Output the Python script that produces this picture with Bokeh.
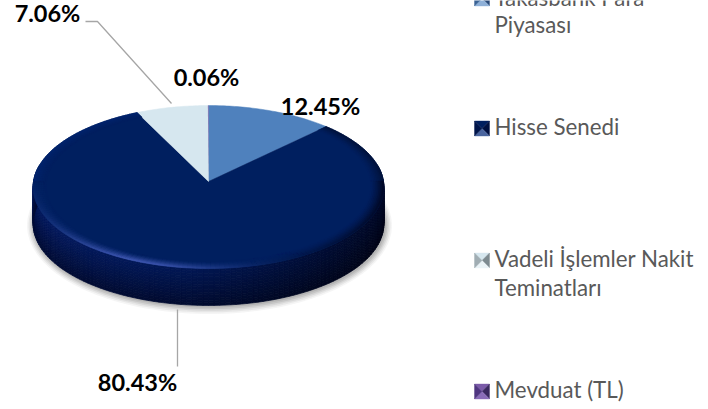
import math
from bokeh.plotting import figure
from bokeh.embed import file_html
from bokeh.resources import INLINE
from bokeh.core.properties import value

categories = ["Takasbank Para Piyasası", "Hisse Senedi", "Vadeli İşlemler Nakit Teminatları", "Mevduat (TL)"]
shares = [12.45, 80.43, 7.06, 0.06]
share_labels = ["12.45%", "80.43%", "7.06%", "0.06%"]
slice_colors = ["#4f81bd", "#001f5f", "#d6e7ef", "#6f4e9c"]
legend_lines = [["Takasbank Para", "Piyasası"], ["Hisse Senedi"], ["Vadeli İşlemler Nakit", "Teminatları"], ["Mevduat (TL)"]]
legend_y = [[-3, 24], [126], [258, 287], [389]]
marker_y = [-2, 128, 260, 391]
marker_shades = [  # top, right, bottom, left
    ["#4f81bd", "#2a4a78", "#8eb0d8", "#3a6294"],
    ["#001f5f", "#001040", "#4a659f", "#00154a"],
    ["#d6e7ef", "#7d8a90", "#eaf3f7", "#a0adb3"],
    ["#7a5aa8", "#3a2860", "#8a6cb8", "#4f3580"],
]
label_pos = [(320, 105), (137, 381), (47, 12), (206, 76)]

CX, CY, RX, H, K, DEPTH = 208.0, 181.0, 175.0, 81.1, 0.0675, 37.0

def pt(theta, r=1.0):
    X, Z = r * math.sin(theta), r * math.cos(theta)
    s = 1 / (1 + K * Z)
    return CX + RX * X * s, CY - H * Z * s

p = figure(width=708, height=409, x_range=(0, 708), y_range=(409, 0), output_backend="svg",
           toolbar_location=None, min_border=0, outline_line_color=None, background_fill_color="white",
           border_fill_color="white")
p.xaxis.visible = False
p.yaxis.visible = False
p.grid.visible = False

def mix(a, b, t):
    return tuple(a[i] + (b[i] - a[i]) * t for i in range(3))

def hexc(c):
    return "#%02x%02x%02x" % tuple(max(0, min(255, int(round(v)))) for v in c)

# soft shadow
N = 180
for grow, alpha in [(7, .10), (5.5, .15), (4, .2), (2.5, .3), (1, .4)]:
    xs, ys = [], []
    for i in range(N):
        x, y = pt(2 * math.pi * i / N)
        xs.append(CX + (x - CX) * (1 + grow / RX) + 1)
        ys.append(CY + (y - CY) * (1 + grow / H) + DEPTH + 1)
    p.patch(xs, ys, fill_color="#9a9a9a", fill_alpha=alpha, line_color=None)

# extruded side
left, mid, right = (5, 27, 96), (1, 23, 84), (0, 9, 40)
qx, qy, qc = [], [], []
SEG, BANDS = 120, 14
for i in range(SEG):
    a0 = math.radians(78 + (282 - 78) * i / SEG)
    a1 = math.radians(78 + (282 - 78) * (i + 1) / SEG)
    x0, y0 = pt(a0)
    x1, y1 = pt(a1)
    t = 1 - ((x0 + x1) / 2 - (CX - RX)) / (2 * RX)  # 1 = left
    t = max(0, min(1, t))
    base = mix(right, mid, t / .55) if t < .55 else mix(mid, left, (t - .55) / .45)
    for b in range(BANDS):
        d0, d1 = DEPTH * b / BANDS, DEPTH * (b + 1) / BANDS
        f = (b + .5) / BANDS
        col = mix(base, (base[0] * .45, base[1] * .45, base[2] * .55), f ** 1.1)
        qx.append([x0, x1, x1, x0])
        qy.append([y0 + d0, y1 + d0, y1 + d1, y0 + d1])
        qc.append(hexc(col))
p.patches(qx, qy, fill_color=qc, line_color=qc, line_width=0.7)

# top face slices, angles taken from the shares
start = 0.0
slices = []
for share, col in zip(shares, slice_colors):
    end = start + share / 100 * 2 * math.pi
    n = max(2, int(share * 4))
    xs, ys = [CX], [CY]
    for i in range(n + 1):
        x, y = pt(start + (end - start) * i / n)
        xs.append(x)
        ys.append(y)
    if share < 1:
        p.patch(xs, ys, fill_color=col, line_color=None)
    else:
        p.patch(xs, ys, fill_color=col, line_color=col, line_width=0.5)
    slices.append((start, end))
    start = end

# bevel of the navy slice
s0, s1 = slices[1]
face = (0, 31, 95)
rx_, ry_, rc_ = [], [], []
RINGS = 8
SEG2 = 200
for i in range(SEG2):
    a0 = s0 + (s1 - s0) * i / SEG2
    a1 = s0 + (s1 - s0) * (i + 1) / SEG2
    am = (a0 + a1) / 2
    sx, cz = math.sin(am), math.cos(am)
    for k in range(RINGS):
        r0 = 1 - 0.075 * (RINGS - k) / RINGS
        r1 = 1 - 0.075 * (RINGS - k - 1) / RINGS
        f = ((k + .5) / RINGS) ** 1.4
        if cz < 0:
            hi = max(0, math.exp(-((sx + .42) / .5) ** 2)) * (-cz) ** .5
            dark = max(0, sx) ** 1.5
            edge = (0 + 70 * hi, 31 + 62 * hi - 24 * dark, 95 + 92 * hi - 62 * dark)
        elif sx > 0:
            edge = (0, 18, 58)
        else:
            edge = (0, 35, 108)
        col = mix(face, edge, f)
        ax0, ay0 = pt(a0, r0)
        ax1, ay1 = pt(a1, r0)
        bx1, by1 = pt(a1, r1)
        bx0, by0 = pt(a0, r1)
        rx_.append([ax0, ax1, bx1, bx0])
        ry_.append([ay0, ay1, by1, by0])
        rc_.append(hexc(col))
p.patches(rx_, ry_, fill_color=rc_, line_color=rc_, line_width=0.6)

# leaders
p.line([85, 97, 171], [21, 21, 103], line_color="#a6a6a6", line_width=1.3)
p.line([177, 177], [309, 366], line_color="#a6a6a6", line_width=1.3)

# data labels
p.text([q[0] for q in label_pos], [q[1] for q in label_pos], text=share_labels,
       text_font=value("Lato"), text_font_style="bold", text_font_size="23.5px",
       text_color="#000000", text_align="center", text_baseline="middle")

# legend
MX, MS = 474, 15
for my, shades in zip(marker_y, marker_shades):
    l, r, tp, bt = MX, MX + MS, my - MS / 2, my + MS / 2
    mx, mc = (l + r) / 2, my
    tris = [([l, r, mx], [tp, tp, mc]), ([r, r, mx], [tp, bt, mc]),
            ([l, r, mx], [bt, bt, mc]), ([l, l, mx], [tp, bt, mc])]
    for (tx, ty), sc in zip(tris, shades):
        p.patch(tx, ty, fill_color=sc, line_color=sc, line_width=0.4)
for lines, ys in zip(legend_lines, legend_y):
    p.text([494] * len(lines), ys, text=lines, text_font=value("Lato"), text_font_size="22.3px",
           text_color="#595959", text_align="left", text_baseline="middle")

open("out.html", "w").write(file_html(p, INLINE))
